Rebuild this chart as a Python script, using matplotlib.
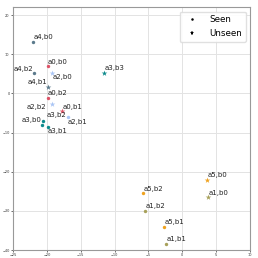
import numpy as np
import matplotlib
matplotlib.use('Agg')
import matplotlib.pyplot as plt
from matplotlib.lines import Line2D

# points: label, x, y, seen?
labels = ['a4,b0', 'a0,b0', 'a4,b2', 'a2,b0', 'a3,b3', 'a4,b1', 'a0,b2', 'a2,b2',
          'a0,b1', 'a2,b1', 'a3,b0', 'a3,b2', 'a3,b1',
          'a5,b0', 'a1,b0', 'a5,b2', 'a1,b2', 'a5,b1', 'a1,b1']
xs = [-22.0, -19.9, -21.9, -19.2, -11.6, -19.8, -19.9, -19.2,
      -17.7, -16.9, -20.6, -20.7, -19.9,
      3.6, 3.85, -5.75, -5.45, -2.7, -2.45]
ys = [13.2, 7.0, 5.1, 5.3, 5.3, 1.7, -1.1, -2.8,
      -4.5, -6.1, -7.1, -8.1, -8.5,
      -22.1, -26.5, -25.5, -30.0, -34.1, -38.4]
seen = [True, True, True, False, False, False, True, False,
        False, True, True, True, True,
        False, False, True, True, True, True]

colors = {'a0': '#dd5266', 'a1': '#a8a15a', 'a2': '#a9c5f5',
          'a3': '#0e8a8c', 'a4': '#5b7a8c', 'a5': '#efa21f'}

# label offsets in pixels (dx, dy up), alignment
offsets = {'a4,b2': (-0.6, 4.6, 'right'), 'a4,b1': (-0.6, 4.7, 'right'),
           'a2,b0': (0.4, -4.0, 'left'), 'a2,b2': (-5.6, -2.7, 'right'),
           'a3,b0': (-1.0, 1.7, 'right'), 'a3,b2': (4.4, 10.0, 'left'),
           'a3,b1': (0.0, -4.3, 'left'), 'a2,b1': (0.0, -5.0, 'left')}

fig = plt.figure(figsize=(2.58, 2.58), dpi=100)
ax = fig.add_axes([13 / 258, 1 - 250 / 258, 237 / 258, 242.7 / 258])

for lab, x, y, s in zip(labels, xs, ys, seen):
    c = colors[lab[:2]]
    if s:
        ax.scatter(x, y, s=6, marker='o', color=c, linewidths=0, zorder=3)
    else:
        ax.scatter(x, y, s=18, marker='*', color=c, linewidths=0, zorder=3)
    dx, dy, ha = offsets.get(lab, (0.5, 4.5, 'left'))
    ax.annotate(lab, (x, y), xytext=(dx * 0.72, dy * 0.72), textcoords='offset points',
                ha=ha, va='center', fontsize=5, color='#222222')

ax.set_xlim(-25, 10)
ax.set_ylim(-40, 22)
ax.set_xticks(np.arange(-25, 11, 5))
ax.set_yticks(np.arange(-40, 21, 10))
ax.grid(True, color='#e3e3e3', linewidth=0.7)
ax.set_axisbelow(True)
for sp in ax.spines.values():
    sp.set_color('#999999')
    sp.set_linewidth(0.8)
ax.tick_params(labelsize=2.5, length=1.5, width=0.5, pad=1, colors='#333333')

handles = [Line2D([], [], marker='o', color='k', linestyle='', markersize=1.8, markeredgewidth=0),
           Line2D([], [], marker='*', color='k', linestyle='', markersize=3.6, markeredgewidth=0)]
ax.legend(handles, ['Seen', 'Unseen'], loc='upper right', fontsize=6.3,
          frameon=True, framealpha=0.9, edgecolor='#dddddd',
          borderpad=0.4, handletextpad=1.0, labelspacing=0.6)

fig.savefig('out.png', dpi=100)
